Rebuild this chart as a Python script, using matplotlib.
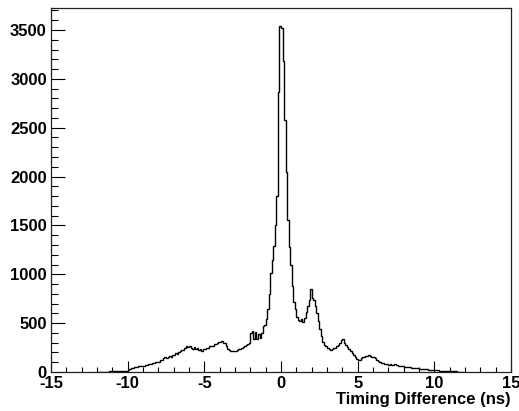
import numpy as np
import matplotlib
matplotlib.use("Agg")
import matplotlib.pyplot as plt
from matplotlib.ticker import MultipleLocator

# Histogram: timing difference, 0.1 ns bins from -12 to 12 ns
bin_low = -12.0
bin_high = 12.0
counts = [
    0, 0, 0, 0, 3, 4, 5, 4, 6, 5,                       # -12..-11
    6, 7, 8, 8, 10, 9, 11, 12, 14, 15,                  # -11..-10
    22, 28, 40, 44, 47, 50, 54, 57, 61, 64,             # -10..-9
    66, 70, 72, 78, 82, 85, 90, 95, 98, 102,            # -9..-8
    105, 118, 125, 140, 158, 145, 152, 165, 150, 172,   # -8..-7
    178, 190, 185, 205, 215, 230, 225, 245, 262, 255,   # -7..-6
    270, 250, 240, 255, 232, 248, 225, 240, 220, 235,   # -6..-5
    238, 250, 245, 262, 270, 268, 285, 290, 300, 310,   # -5..-4
    305, 315, 300, 295, 262, 235, 222, 215, 218, 216,   # -4..-3
    220, 225, 232, 240, 248, 255, 265, 275, 285, 295,   # -3..-2
    395, 418, 338, 412, 335, 392, 348, 402, 470, 485,   # -2..-1
    540, 640, 800, 1010, 1150, 1290, 1500, 1800, 2870, 3540,  # -1..0
    3520, 3180, 2580, 2050, 1560, 1280, 1100, 880, 720, 640,  # 0..1
    560, 530, 520, 540, 515, 550, 610, 680, 740, 850,   # 1..2
    760, 740, 680, 600, 520, 440, 370, 310, 280, 265,   # 2..3
    250, 235, 230, 238, 245, 250, 262, 275, 300, 330,   # 3..4
    335, 300, 280, 255, 240, 210, 190, 170, 150, 130,   # 4..5
    120, 125, 140, 155, 150, 165, 160, 175, 165, 155,   # 5..6
    150, 140, 120, 110, 100, 95, 90, 85, 80, 78,        # 6..7
    75, 80, 72, 70, 78, 68, 65, 62, 60, 58,             # 7..8
    55, 52, 50, 48, 47, 45, 42, 40, 38, 37,             # 8..9
    35, 33, 32, 30, 28, 26, 25, 23, 22, 20,             # 9..10
    19, 18, 16, 15, 14, 12, 11, 10, 10, 9,              # 10..11
    8, 8, 7, 6, 6, 5, 5, 4, 3, 2,                       # 11..12
]
x_label = "Timing Difference (ns)"
x_range = (-15, 15)
y_max = 3725

plt.rcParams['font.family'] = ['Liberation Sans', 'DejaVu Sans']
plt.rcParams['font.weight'] = 'bold'
plt.rcParams['axes.unicode_minus'] = False

fig = plt.figure(figsize=(5.19, 4.11), dpi=100)
ax = fig.add_axes([51/519, 1-372/411, 460/519, 364/411])

edges = np.linspace(bin_low, bin_high, len(counts) + 1)
ax.stairs(counts, edges, color='black', linewidth=1.0, baseline=0)

ax.set_xlim(*x_range)
ax.set_ylim(0, y_max)

ax.xaxis.set_major_locator(MultipleLocator(5))
ax.xaxis.set_minor_locator(MultipleLocator(1))
ax.yaxis.set_major_locator(MultipleLocator(500))
ax.yaxis.set_minor_locator(MultipleLocator(100))

ax.tick_params(axis='x', which='major', direction='in', length=8, width=0.8,
               labelsize=12, pad=3, top=False)
ax.tick_params(axis='x', which='minor', direction='in', length=3.8, width=0.8, top=False)
ax.tick_params(axis='y', which='major', direction='in', length=10, width=0.8,
               labelsize=12, pad=3, right=False)
ax.tick_params(axis='y', which='minor', direction='in', length=5, width=0.8, right=False)

for lab in ax.get_xticklabels() + ax.get_yticklabels():
    lab.set_fontweight('bold')

for sp in ax.spines.values():
    sp.set_linewidth(0.9)
    sp.set_color('#222222')

fig.text(511/519, 1-404/411, x_label, ha='right', va='baseline',
         fontsize=12, fontweight='bold')

fig.savefig("out.png", dpi=100)
